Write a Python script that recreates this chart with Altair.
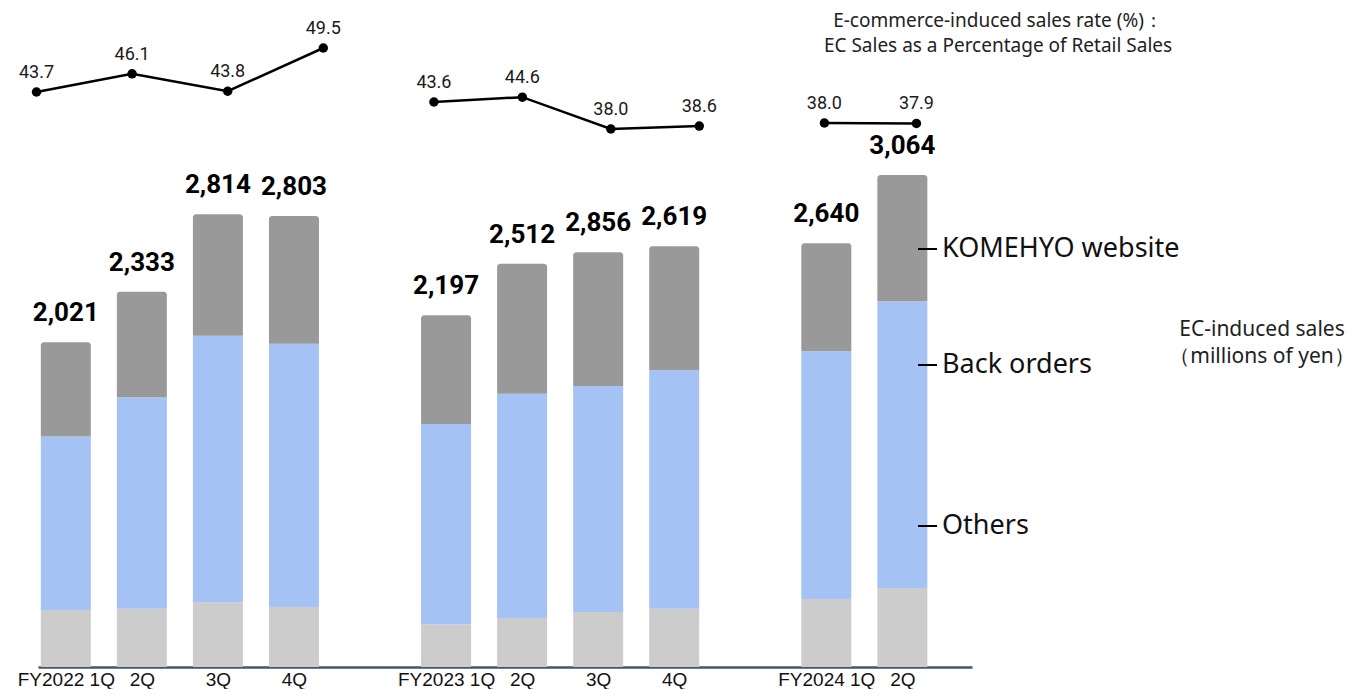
import altair as alt
import pandas as pd

# ---------------- data ----------------
periods = ["FY2022 1Q", "2Q", "3Q", "4Q", "FY2023 1Q", "2Q", "3Q", "4Q", "FY2024 1Q", "2Q"]
groups = ["FY2022"] * 4 + ["FY2023"] * 4 + ["FY2024"] * 2
slots = [0, 1, 2, 3, 5, 6, 7, 8, 10, 11]          # category order incl. gaps between years
others = [355, 363, 403, 373, 266, 305, 342, 363, 423, 492]
back_orders = [1079, 1316, 1659, 1639, 1247, 1396, 1407, 1484, 1542, 1785]
komehyo_web = [588, 657, 756, 795, 677, 809, 832, 772, 672, 786]
total_labels = ["2,021", "2,333", "2,814", "2,803", "2,197", "2,512", "2,856", "2,619", "2,640", "3,064"]
ec_rate = [43.7, 46.1, 43.8, 49.5, 43.6, 44.6, 38.0, 38.6, 38.0, 37.9]
segment_names = ["Others", "Back orders", "KOMEHYO website"]
segment_colors = ["#CCCCCC", "#A4C2F4", "#999999"]

# ---------------- layout / style ----------------
W, H = 934, 659
xs = alt.Scale(domain=[-0.3, 11.85], nice=False, zero=False)
ys = alt.Scale(domain=[0, 4102], nice=False)
line_layout = {
    "FY2022": dict(shift=0.0, spread=1.257, domain=[43.7, 49.5], rng=[84, 40]),
    "FY2023": dict(shift=0.085, spread=1.163, domain=[38.0, 43.6], rng=[121, 94]),
    "FY2024": dict(shift=0.08, spread=1.21, domain=[30, 46], rng=[154, 76]),
}

label_expr = " : ".join(
    f"datum.value == {s} ? '{p}'" for s, p in zip(slots, periods)
) + " : ''"

xaxis = alt.Axis(values=slots, labelExpr=label_expr, title=None, grid=False, ticks=False,
                 domain=True, domainColor="#44546A", domainWidth=2.5,
                 labelFont="Liberation Sans", labelFontSize=19, labelColor="#111111",
                 labelPadding=3, labelOverlap=False, labelBound=False, labelFlush=False)

# ---------------- tables ----------------
rows = []
for i in range(len(periods)):
    base = 0
    for name, vals in zip(segment_names, [others, back_orders, komehyo_web]):
        rows.append(dict(pos=slots[i], seg=name, y0=base, y1=base + vals[i]))
        base += vals[i]
seg_df = pd.DataFrame(rows)

tot_df = pd.DataFrame(dict(
    pos=slots,
    top=[o + b + w for o, b, w in zip(others, back_orders, komehyo_web)],
    label=total_labels,
))

color = alt.Color("seg:N", scale=alt.Scale(domain=segment_names, range=segment_colors), legend=None)

bars_low = alt.Chart(seg_df[seg_df.seg != "KOMEHYO website"]).mark_bar(size=50).encode(
    x=alt.X("pos:Q", scale=xs, axis=xaxis),
    y=alt.Y("y0:Q", scale=ys, axis=None),
    y2="y1:Q",
    color=color,
)
bars_top = alt.Chart(seg_df[seg_df.seg == "KOMEHYO website"]).mark_bar(
    size=50, cornerRadiusTopLeft=3, cornerRadiusTopRight=3).encode(
    x=alt.X("pos:Q", scale=xs, axis=xaxis),
    y=alt.Y("y0:Q", scale=ys, axis=None),
    y2="y1:Q",
    color=color,
)
tot_text = alt.Chart(tot_df).mark_text(
    dy=-21, baseline="alphabetic", fontSize=26, fontWeight="bold",
    font="Roboto", color="#000000").encode(
    x=alt.X("pos:Q", scale=xs, axis=xaxis),
    y=alt.Y("top:Q", scale=ys, axis=None),
    text="label:N",
)

line_layers = []
for g, cfg in line_layout.items():
    idx = [i for i, gg in enumerate(groups) if gg == g]
    ps = [slots[i] for i in idx]
    c = sum(ps) / len(ps)
    df = pd.DataFrame(dict(
        lx=[c + cfg["shift"] + (p - c) * cfg["spread"] for p in ps],
        rate=[ec_rate[i] for i in idx],
    ))
    yenc = alt.Y("rate:Q", scale=alt.Scale(domain=cfg["domain"], range=cfg["rng"], nice=False, zero=False), axis=None)
    xenc = alt.X("lx:Q", scale=xs, axis=xaxis)
    base = alt.Chart(df).encode(x=xenc, y=yenc)
    ln = base.mark_line(color="#000000", strokeWidth=2.5)
    pt = base.mark_circle(size=90, color="#000000", opacity=1)
    tx = base.mark_text(dy=-19, fontSize=18, font="Roboto", color="#1a1a1a").encode(
        text=alt.Text("rate:Q", format=".1f"))
    line_layers.append(alt.layer(ln, pt, tx))

# ---------------- annotations ----------------
legend_y = [241, 357, 518]
legend_names = ["KOMEHYO website", "Back orders", "Others"]
ann = []
for name, yy in zip(legend_names, legend_y):
    ann.append(alt.Chart(pd.DataFrame({"t": [name]})).mark_rule(color="#000000", strokeWidth=2).encode(
        x=alt.value(880), x2=alt.value(899), y=alt.value(yy)))
    ann.append(alt.Chart(pd.DataFrame({"t": [name]})).mark_text(
        align="left", baseline="middle", fontSize=27, font="Noto Sans", color="#111111").encode(
        x=alt.value(904), y=alt.value(yy), text="t:N"))

side_lines = ["EC-induced sales", "（millions of yen）"]
for t, yy in zip(side_lines, [322, 349]):
    ann.append(alt.Chart(pd.DataFrame({"t": [t]})).mark_text(
        align="center", baseline="middle", fontSize=21, font="Noto Sans", color="#222222").encode(
        x=alt.value(1224), y=alt.value(yy), text="t:N"))

title_lines = ["E-commerce-induced  sales rate (%)：", "EC Sales as a Percentage of Retail Sales"]
for t, yy in zip(title_lines, [13, 38]):
    ann.append(alt.Chart(pd.DataFrame({"t": [t]})).mark_text(
        align="center", baseline="middle", fontSize=19, font="Noto Sans", color="#222222").encode(
        x=alt.value(960), y=alt.value(yy), text="t:N"))

chart = alt.layer(bars_low, bars_top, tot_text, *line_layers, *ann).resolve_scale(
    y="independent"
).properties(
    width=W, height=H,
    background="#ffffff",
    autosize=alt.AutoSizeParams(type="none"),
    padding={"left": 30, "top": 0, "right": 379, "bottom": 22},
).configure_view(stroke="transparent", strokeWidth=0)

chart.save("out.html", embed_options={"renderer": "svg", "actions": False})
